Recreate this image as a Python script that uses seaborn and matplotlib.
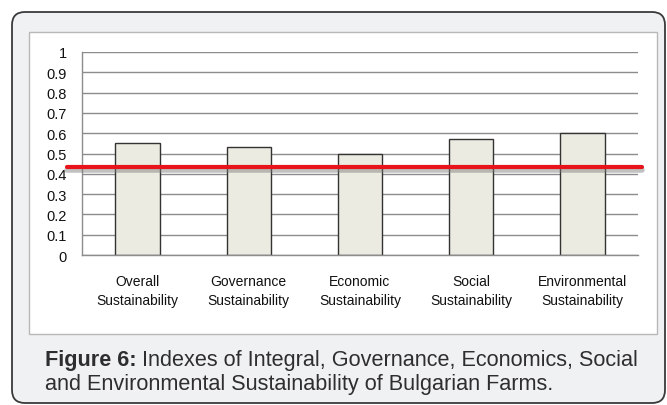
import matplotlib
matplotlib.use("Agg")
import matplotlib.pyplot as plt
import matplotlib.patheffects as pe
from matplotlib.patches import FancyBboxPatch, Rectangle
import seaborn as sns
import pandas as pd

# -----------------------------
# Data
# -----------------------------
categories = [
    "Overall\nSustainability",
    "Governance\nSustainability",
    "Economic\nSustainability",
    "Social\nSustainability",
    "Environmental\nSustainability",
]
values = [0.55, 0.53, 0.50, 0.57, 0.60]
threshold = 0.435
y_ticks = [0, 0.1, 0.2, 0.3, 0.4, 0.5, 0.6, 0.7, 0.8, 0.9, 1.0]
y_tick_labels = ["0", "0.1", "0.2", "0.3", "0.4", "0.5", "0.6", "0.7", "0.8", "0.9", "1"]
caption_bold = "Figure 6:"
caption_line1 = " Indexes of Integral, Governance, Economics, Social"
caption_line2 = "and Environmental Sustainability of Bulgarian Farms."

df = pd.DataFrame({"category": categories, "value": values})

# -----------------------------
# Style
# -----------------------------
sns.set_style("white")
plt.rcParams["font.family"] = ["Liberation Sans", "DejaVu Sans"]

W, H = 667, 406
fig = plt.figure(figsize=(W / 100, H / 100), dpi=100)
fig.patch.set_facecolor("white")

# outer rounded frame + inner white panel (in inches)
frame = FancyBboxPatch((0.12, 0.02), 6.53, 3.91,
                       boxstyle="round,pad=0,rounding_size=0.13",
                       transform=fig.dpi_scale_trans, facecolor="#f0f1f3",
                       edgecolor="#3a3a3a", linewidth=1.3, zorder=-2)
fig.patches.append(frame)
panel = Rectangle((0.29, 0.71), 6.28, 3.02, transform=fig.dpi_scale_trans,
                  facecolor="white", edgecolor="#b8b8b8", linewidth=1, zorder=-1)
fig.patches.append(panel)

# -----------------------------
# Bar chart
# -----------------------------
ax = fig.add_axes([82 / W, 150 / H, 556 / W, 203 / H])
ax.set_facecolor("none")

sns.barplot(data=df, x="category", y="value", color="#ecebe1",
            edgecolor="#333333", linewidth=1, width=0.4, saturation=1, ax=ax)

ax.set_ylim(0, 1)
ax.set_xlim(-0.5, len(categories) - 0.5)
ax.set_yticks(y_ticks)
ax.set_yticklabels(y_tick_labels)
ax.set_xticks(range(len(categories)))
ax.set_xticklabels(categories, linespacing=1.45)
ax.set_xlabel("")
ax.set_ylabel("")

ax.set_axisbelow(True)
ax.yaxis.grid(True, color="#8c8c8c", linewidth=1)
ax.xaxis.grid(False)

for s in ["top", "right"]:
    ax.spines[s].set_visible(False)
for s in ["left", "bottom"]:
    ax.spines[s].set_color("#8c8c8c")
    ax.spines[s].set_linewidth(1)

ax.tick_params(axis="y", length=4, color="#8c8c8c", direction="out", pad=7,
               labelsize=10.5, labelcolor="#111111")
ax.set_xticks([i - 0.5 for i in range(len(categories) + 1)], minor=True)
ax.tick_params(axis="x", which="major", length=0, pad=14, labelsize=10,
               labelcolor="#111111")
ax.tick_params(axis="x", which="minor", length=4, color="#8c8c8c",
               direction="out")

# red reference line with a soft shadow
ax.axhline(threshold, xmin=-0.027, xmax=1.007, color="#e8141b", linewidth=3,
           clip_on=False, zorder=5,
           path_effects=[pe.SimpleLineShadow(offset=(0, -2.5), shadow_color="#777777",
                                             alpha=0.45, linewidth=4),
                         pe.Normal()])

# -----------------------------
# Caption
# -----------------------------
cap_size = 15.6
t = fig.text(45 / W, 1 - 366 / H, caption_bold, fontsize=cap_size, weight="bold",
             color="#2e2e2e", va="baseline")
fig.canvas.draw()
bb = t.get_window_extent(fig.canvas.get_renderer())
fig.text(bb.x1 / W, 1 - 366 / H, caption_line1, fontsize=cap_size,
         color="#2e2e2e", va="baseline")
fig.text(45 / W, 1 - 390 / H, caption_line2, fontsize=cap_size,
         color="#2e2e2e", va="baseline")

fig.savefig("out.png", dpi=100)
